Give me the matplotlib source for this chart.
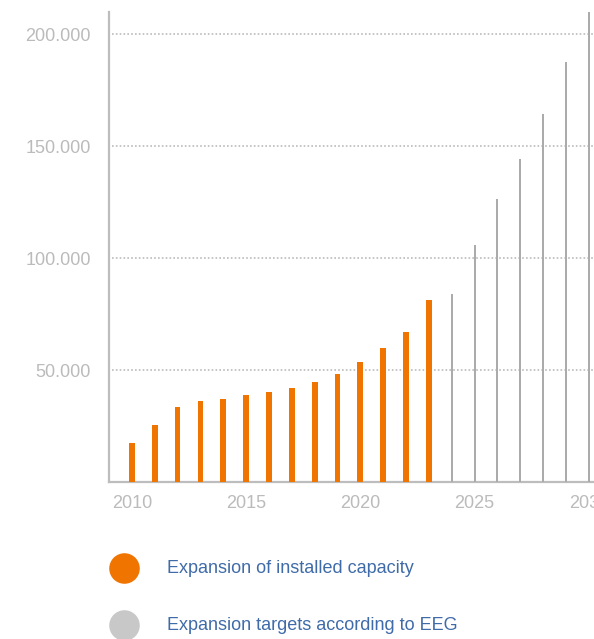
import matplotlib
matplotlib.use("Agg")
import matplotlib.pyplot as plt
from matplotlib.lines import Line2D

plt.rcParams['font.family'] = ['Liberation Sans', 'DejaVu Sans']

installed_years = list(range(2010, 2024))
installed_values = [17300, 25400, 33500, 36000, 37200, 38800, 40000, 41800,
                    44600, 48200, 53700, 59700, 67000, 81300]
target_years = list(range(2024, 2031))
target_values = [84200, 105800, 126300, 144500, 164600, 187500, 215000]
x_ticks = [2010, 2015, 2020, 2025, 2030]
y_ticks = [50000, 100000, 150000, 200000]
y_tick_labels = ["50.000", "100.000", "150.000", "200.000"]
legend_labels = ["Expansion of installed capacity", "Expansion targets according to EEG"]

ORANGE = "#F07400"
GRAY_BAR = "#ABABAB"
AXIS_GRAY = "#BDBDBD"
TEXT_GRAY = "#BBBBBB"
BLUE = "#3F6BA9"

W, H = 594, 639
fig = plt.figure(figsize=(W / 100, H / 100), dpi=100)
left_px, bottom_px, top_px = 109, 482, 12
px_per_year = 22.85
ax = fig.add_axes([left_px / W, 1 - bottom_px / H, 22 * px_per_year / W, (bottom_px - top_px) / H])

ax.bar(installed_years, installed_values, width=0.25, color=ORANGE, zorder=3)
ax.bar(target_years, target_values, width=0.09, color=GRAY_BAR, zorder=3)

ax.set_xlim(2009, 2031)
ax.set_ylim(0, 210000)

for y in y_ticks:
    ax.axhline(y, color="#BBBBBB", lw=1.2, linestyle=(0, (1, 1.3)), zorder=1,
               xmin=0.006)

ax.set_xticks(x_ticks)
ax.set_xticklabels([str(x) for x in x_ticks])
ax.set_yticks(y_ticks)
ax.set_yticklabels(y_tick_labels)
ax.tick_params(axis='both', length=0, labelsize=13, colors=TEXT_GRAY)
ax.tick_params(axis='x', pad=9)
ax.tick_params(axis='y', pad=13)

for s in ["top", "right"]:
    ax.spines[s].set_visible(False)
for s in ["left", "bottom"]:
    ax.spines[s].set_color(AXIS_GRAY)
    ax.spines[s].set_linewidth(1.6)

# legend
for i, (lab, col) in enumerate(zip(legend_labels, [ORANGE, "#C8C8C8"])):
    yc = 568.3 + i * 57
    fig.add_artist(Line2D([123.7 / W], [1 - yc / H], marker='o', markersize=22,
                          markerfacecolor=col, markeredgecolor='none',
                          linestyle='none', transform=fig.transFigure))
    fig.text(167 / W, 1 - yc / H, lab, color=BLUE, fontsize=13, va='center', ha='left')

fig.savefig("out.png", dpi=100)
